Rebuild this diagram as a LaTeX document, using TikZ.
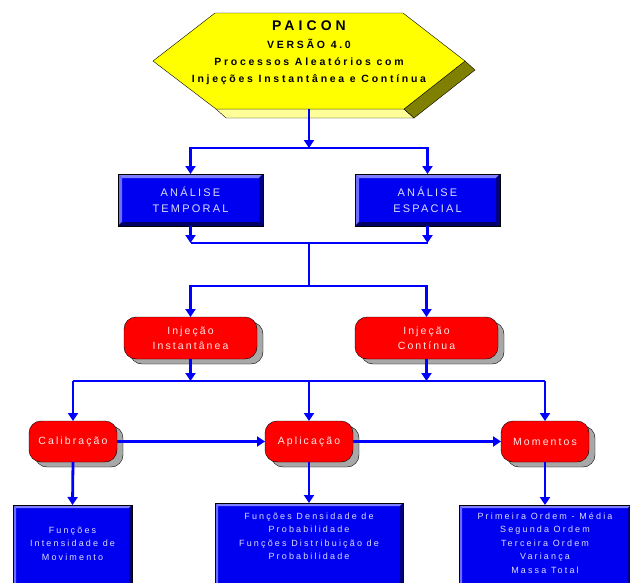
\documentclass[tikz,border=0pt]{standalone}
\usepackage{fontspec}
\setmainfont{Liberation Sans}
\newfontfamily\hexfont[LetterSpace=26]{Liberation Sans}
\newfontfamily\titlefont[LetterSpace=29]{Liberation Sans}
\newfontfamily\boxfont[LetterSpace=20]{Liberation Sans}
\newfontfamily\leaffont[LetterSpace=24]{Liberation Sans}
\usetikzlibrary{positioning,calc,arrows.meta,shadows}

\definecolor{hexyellow}{HTML}{FFFF00}
\definecolor{hexlight}{HTML}{FFFF99}
\definecolor{hexdark}{HTML}{808000}
\definecolor{boxblue}{HTML}{0000F0}
\definecolor{bevellite}{HTML}{8080FF}
\definecolor{beveldark}{HTML}{000080}
\definecolor{boxtext}{HTML}{DCDCFF}
\definecolor{redtext}{HTML}{FFE6E6}
\definecolor{linkblue}{HTML}{0000FF}
\definecolor{shadowgray}{HTML}{A8A8A8}

\tikzset{
  link/.style={draw=linkblue, line width=2.8pt},
  flow/.style={link, -{Triangle[width=10pt,length=8pt]}},
  hextext/.style={align=center, inner xsep=0pt, inner ysep=0pt, font=\hexfont\bfseries\fontsize{10.5}{16.7}\selectfont},
  bluebox/.style={draw=black, fill=boxblue, text=boxtext, align=center, outer sep=0pt,
    minimum width=145pt, minimum height=52pt, font=\boxfont\fontsize{11}{16}\selectfont},
  redbox/.style={draw=black, fill=red, text=redtext, align=center, outer sep=0pt,
    rounded corners=12pt, minimum height=42pt, font=\boxfont\fontsize{10.5}{15}\selectfont,
    drop shadow={shadow xshift=6pt, shadow yshift=-5pt, fill=shadowgray, draw=black, opacity=1}},
  leafbox/.style={bluebox, anchor=north, minimum height=0pt, text depth=80pt,
    font=\leaffont\fontsize{9}{13.5}\selectfont}
}

\newcommand{\boxbevel}[2]{%
  \fill[bevellite] (#1.north west) -- (#1.north east) -- ($(#1.north east)+(-#2,#2)$) -- ($(#1.north west)+(#2,#2)$) -- cycle;
  \fill[bevellite!85!blue] (#1.north west) -- ($(#1.north west)+(#2,#2)$) -- ($(#1.south west)+(#2,-#2)$) -- (#1.south west) -- cycle;
  \fill[beveldark] (#1.north east) -- (#1.south east) -- ($(#1.south east)+(-#2,-#2)$) -- ($(#1.north east)+(-#2,#2)$) -- cycle;
  \fill[beveldark!80!black] (#1.south west) -- (#1.south east) -- ($(#1.south east)+(-#2,-#2)$) -- ($(#1.south west)+(#2,-#2)$) -- cycle;
  \draw[black] (#1.north west) rectangle (#1.south east);
}

\begin{document}
\begin{tikzpicture}[x=1pt, y=-1pt]
	\useasboundingbox (0,0) rectangle (630,582);
	\clip (0,0) rectangle (630,582);

	\filldraw[fill=hexlight, draw=black] (216,109) -- (404,109) -- (414,118) -- (226,118) -- cycle;
	\filldraw[fill=hexdark, draw=black] (465,61) -- (475,70) -- (414,118) -- (404,109) -- cycle;
	\filldraw[fill=hexyellow, draw=black] (215,13) -- (403,13) -- (465,61) -- (404,109) -- (216,109) -- (153,61) -- cycle;
	\node[hextext, anchor=south, text depth=26.7pt] (paicon) at (309,109) {{\titlefont\fontsize{14}{14}\selectfont PAICON}\\[1.6pt]VERSÃO 4.0\\Processos Aleatórios com\\Injeções Instantânea e Contínua};

	\node[bluebox] (temporal) at (190.5,200) {ANÁLISE\\TEMPORAL};
	\node[bluebox] (espacial) at (427.5,200) {ANÁLISE\\ESPACIAL};
	\boxbevel{temporal}{4}
	\boxbevel{espacial}{4}

	\node[redbox, minimum width=133pt] (inst) at (190.5,338) {Injeção\\Instantânea};
	\node[redbox, minimum width=143pt] (cont) at (426.5,338) {Injeção\\Contínua};

	\node[redbox, minimum width=88pt, minimum height=41pt] (calib) at (73,441.5) {Calibração};
	\node[redbox, minimum width=88pt, minimum height=41pt] (aplic) at (309,441.5) {Aplicação};
	\node[redbox, minimum width=88pt, minimum height=41pt] (moment) at (545,441.5) {Momentos};

	\node[leafbox, minimum width=119pt, inner ysep=22pt] (intens) at (72.5,505) {Funções\\Intensidade de\\Movimento};
	\node[leafbox, minimum width=188pt, inner ysep=9.6pt] (densid) at (309,503) {Funções Densidade de\\Probabilidade\\Funções Distribuição de\\Probabilidade};
	\node[leafbox, minimum width=172pt, inner ysep=7.6pt] (ordens) at (545,505) {Primeira Ordem - Média\\Segunda Ordem\\Terceira Ordem\\Variança\\Massa Total};
	\boxbevel{intens}{3}
	\boxbevel{densid}{3}
	\boxbevel{ordens}{3}

	\coordinate (j1) at (309,148);
	\coordinate (j2) at (309,243);
	\coordinate (j3) at (309,286);
	\coordinate (j4) at (309,381);

	\draw[flow] (paicon.south) -- (j1);
	\draw[flow] (j1) -| (temporal.north);
	\draw[flow] (j1) -| (espacial.north);

	\draw[flow] (temporal.south) -- (temporal.south |- j2);
	\draw[flow] (espacial.south) -- (espacial.south |- j2);
	\draw[link] (temporal.south |- j2) -- (espacial.south |- j2);
	\draw[link] (j2) -- (j3);
	\draw[flow] (j3) -| (inst.north);
	\draw[flow] (j3) -| (cont.north);

	\draw[flow] (inst.south) -- (inst.south |- j4);
	\draw[flow] (cont.south) -- (cont.south |- j4);
	\draw[link] (calib.north |- j4) -- (moment.north |- j4);
	\draw[flow] (calib.north |- j4) -- (calib.north);
	\draw[flow] (j4) -- (aplic.north);
	\draw[flow] (moment.north |- j4) -- (moment.north);

	\draw[flow] (calib) -- (aplic);
	\draw[flow] (aplic) -- (moment);

	\draw[flow] (calib.south) -- (intens.north);
	\draw[flow] (aplic.south) -- (densid.north);
	\draw[flow] (moment.south) -- (ordens.north);
\end{tikzpicture}
\end{document}
